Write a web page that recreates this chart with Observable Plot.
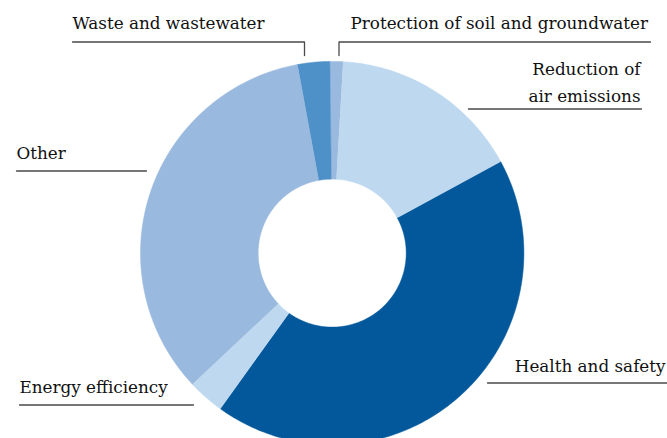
<!DOCTYPE html>
<html>
<head>
<meta charset="utf-8">
<script src="https://cdn.jsdelivr.net/npm/d3@7"></script>
<script src="https://cdn.jsdelivr.net/npm/@observablehq/plot@0.6"></script>
<style>
  html, body { margin: 0; padding: 0; background: #fff; }
  #chart { width: 667px; height: 438px; overflow: hidden; }
</style>
</head>
<body>
<div id="chart"></div>
<script>
// ---- data (clockwise from 12 o'clock) ----
const categories = [
  "Protection of soil and groundwater",
  "Reduction of air emissions",
  "Health and safety",
  "Energy efficiency",
  "Other",
  "Waste and wastewater"
];
const values = [1.1, 16.2, 42.8, 3.1, 34.1, 2.7];
const colors = ["#9ab9de", "#bed8ef", "#02589a", "#bed8ef", "#9ab9de", "#4e90c8"];

// ---- layout ----
const W = 667, H = 438;
const cx = 331.7, cy = 252.6, R = 191.7, r0 = 74;
const startAngle = -0.7 * Math.PI / 180;
const fs = 16.8;
const up = 3.5;

const arcs = d3.pie().sort(null).value(d => d)
  .startAngle(startAngle).endAngle(startAngle + 2 * Math.PI)(values);

const wedgePts = [];
arcs.forEach((a, i) => {
  const n = Math.max(4, Math.ceil((a.endAngle - a.startAngle) / (Math.PI / 180)));
  const pts = [];
  for (let k = 0; k <= n; k++) {
    const t = a.startAngle + (a.endAngle - a.startAngle) * k / n;
    pts.push([cx + R * Math.sin(t), cy - R * Math.cos(t)]);
  }
  for (let k = n; k >= 0; k--) {
    const t = a.startAngle + (a.endAngle - a.startAngle) * k / n;
    pts.push([cx + r0 * Math.sin(t), cy - r0 * Math.cos(t)]);
  }
  pts.forEach(p => wedgePts.push({name: categories[i], color: colors[i], x: p[0], y: p[1]}));
});

// label placement (layout only)
const labelLayout = [
  {name: categories[0], text: categories[0], x: 350, y: 28.5 - 0.32 * fs - up, anchor: "start"},
  {name: categories[1], text: "Reduction of\nair emissions", x: 640, y: (75 + 101.5) / 2 - 0.32 * fs - up, anchor: "end"},
  {name: categories[2], text: categories[2], x: 665, y: 371.5 - 0.32 * fs - up, anchor: "end"},
  {name: categories[3], text: categories[3], x: 19, y: 393 - 0.32 * fs - up, anchor: "start"},
  {name: categories[4], text: categories[4], x: 16, y: 158.5 - 0.32 * fs - up, anchor: "start"},
  {name: categories[5], text: categories[5], x: 72, y: 28.5 - 0.32 * fs - up, anchor: "start"}
];
const leaders = [
  {name: categories[0], pts: [[650, 41.5], [338.5, 41.5], [338.5, 55]]},
  {name: categories[1], pts: [[468, 108.5], [641, 108.5]]},
  {name: categories[2], pts: [[487, 382.5], [667, 382.5]]},
  {name: categories[3], pts: [[19, 404.5], [193, 404.5]]},
  {name: categories[4], pts: [[16, 170.5], [146, 170.5]]},
  {name: categories[5], pts: [[72, 41.5], [304, 41.5], [304, 55]]}
];
const leaderPts = leaders.flatMap(l => l.pts.map(p => ({name: l.name, x: p[0], y: p[1]})));

const textOpts = {x: "x", y: "y", text: "text", fontSize: fs, fill: "#111", lineHeight: 27 / fs};

const chart = Plot.plot({
  width: W,
  height: H,
  margin: 0,
  x: {domain: [0, W], range: [0, W], axis: null},
  y: {domain: [0, H], range: [0, H], axis: null},
  style: {background: "#fff", fontFamily: "'DejaVu Serif', serif"},
  marks: [
    Plot.line(wedgePts, {x: "x", y: "y", z: "name", fill: "color", stroke: "color", strokeWidth: 0.5, curve: "linear"}),
    Plot.line(leaderPts, {x: "x", y: "y", z: "name", stroke: "#4a4a4a", strokeWidth: 1.3}),
    Plot.text(labelLayout.filter(d => d.anchor === "start"), {...textOpts, textAnchor: "start"}),
    Plot.text(labelLayout.filter(d => d.anchor === "end"), {...textOpts, textAnchor: "end"})
  ]
});
document.getElementById("chart").appendChild(chart);
</script>
</body>
</html>
